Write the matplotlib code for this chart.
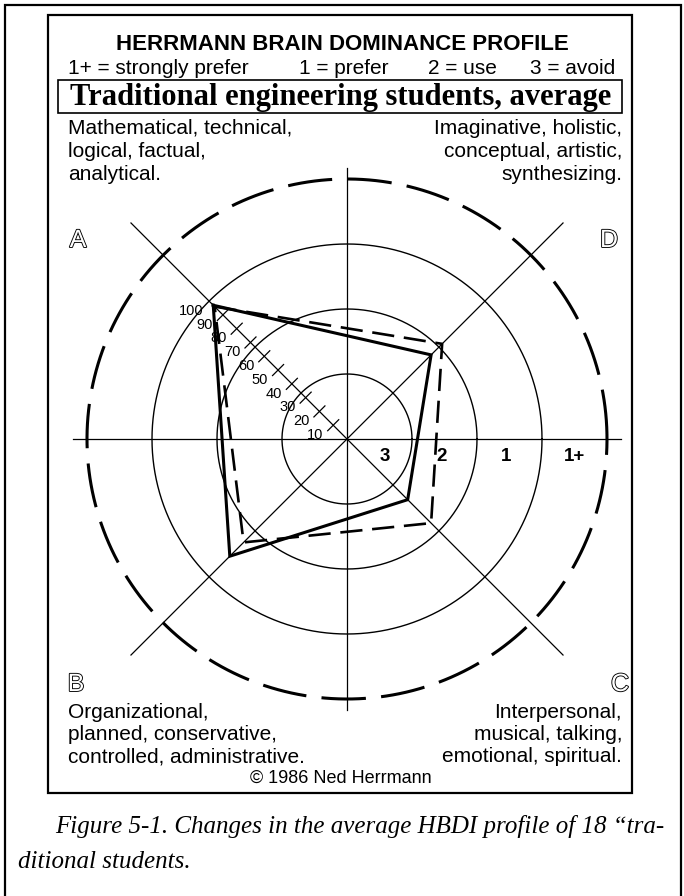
import matplotlib
matplotlib.use('Agg')
import matplotlib.pyplot as plt
import matplotlib.patheffects as pe
import numpy as np

plt.rcParams['lines.scale_dashes'] = False

# ---------------- data ----------------
quadrants = ['A', 'D', 'C', 'B']
quadrant_angles = [135, 45, -45, -135]          # degrees, direction of each quadrant axis
profile_solid = [97, 61, 44, 85]                # score per quadrant (A, D, C, B)
profile_dashed = [96, 69, 61, 75]
ring_labels = ['3', '2', '1', '1+']
ring_label_pos = [0.58, 1.45, 2.45, 3.5]        # in ring units along the x axis
scale_ticks = [10, 20, 30, 40, 50, 60, 70, 80, 90, 100]

title = 'HERRMANN BRAIN DOMINANCE PROFILE'
legend_items = ['1+ = strongly prefer', '1 = prefer', '2 = use', '3 = avoid']
subtitle = 'Traditional engineering students, average'
lines_A = ['Mathematical, technical,', 'logical, factual,', 'analytical.']
lines_D = ['Imaginative, holistic,', 'conceptual, artistic,', 'synthesizing.']
lines_B = ['Organizational,', 'planned, conservative,', 'controlled, administrative.']
lines_C = ['Interpersonal,', 'musical, talking,', 'emotional, spiritual.']
copyright_text = '\u00a9 1986 Ned Herrmann'
caption_1 = 'Figure 5-1. Changes in the average HBDI profile of 18 \u201ctra-'
caption_2 = 'ditional students.'

# ---------------- layout ----------------
W, H = 684, 896
fig = plt.figure(figsize=(W / 100, H / 100), dpi=100)
fig.patch.set_facecolor('white')

bg = fig.add_axes([0, 0, 1, 1])
bg.set_xlim(0, W)
bg.set_ylim(H, 0)
bg.axis('off')

SANS = ['Liberation Sans', 'DejaVu Sans']
SERIF = ['Liberation Serif', 'DejaVu Serif']

# outer frame (open at bottom)
bg.plot([5, 5, 681, 681], [H, 5, 5, H], color='black', lw=1.6, solid_joinstyle='miter')
# inner box
bg.add_patch(plt.Rectangle((48, 15), 584, 778, fill=False, ec='black', lw=1.6))
# title box
bg.add_patch(plt.Rectangle((58, 80), 564, 33, fill=False, ec='black', lw=1.2))

bg.text(342, 45, title, family=SANS, weight='bold', fontsize=16, ha='center', va='center')
leg_x = [68, 299, 428, 530]
for x, s in zip(leg_x, legend_items):
    bg.text(x, 68, s, family=SANS, fontsize=15, ha='left', va='center')
bg.text(341, 97, subtitle, family=SERIF, weight='bold', fontsize=22, ha='center', va='center')

body_kw = dict(family=SANS, fontsize=15, va='center')
for i, s in enumerate(lines_A):
    bg.text(68, 128 + i * 23.5, s, ha='left', **body_kw)
for i, s in enumerate(lines_D):
    bg.text(622, 128 + i * 23.5, s, ha='right', **body_kw)
for i, s in enumerate(lines_B):
    bg.text(68, 712 + i * 22.5, s, ha='left', **body_kw)
for i, s in enumerate(lines_C):
    bg.text(622, 712 + i * 22.5, s, ha='right', **body_kw)
bg.text(341, 778, copyright_text, family=SANS, fontsize=13, ha='center', va='center')

outline = [pe.withStroke(linewidth=1.3, foreground='black')]
letter_kw = dict(family=SANS, fontsize=18, color='white', ha='center', va='center',
                 path_effects=outline)
bg.text(78, 240, 'A', **letter_kw)
bg.text(609, 240, 'D', **letter_kw)
bg.text(76, 684, 'B', **letter_kw)
bg.text(620, 684, 'C', **letter_kw)

cap_kw = dict(family=SERIF, style='italic', fontsize=18, ha='left', va='center')
bg.text(55, 827, caption_1, **cap_kw)
bg.text(18, 862, caption_2, **cap_kw)

# ---------------- chart axes (ring units) ----------------
cx, cy, ring = 347, 439, 65.0
R = 4.8
ax = fig.add_axes([(cx - R * ring) / W, (H - cy - R * ring) / H,
                   2 * R * ring / W, 2 * R * ring / H])
ax.set_xlim(-R, R)
ax.set_ylim(-R, R)
ax.axis('off')
ax.patch.set_alpha(0)

theta = np.linspace(0, 2 * np.pi, 721)
for r in (1, 2, 3):
    ax.plot(r * np.cos(theta), r * np.sin(theta), color='black', lw=1.0)
ax.plot(4 * np.cos(theta + 0.02), 4 * np.sin(theta + 0.02), color='black', lw=2.2,
        linestyle=(0, (32, 11)))

# axes
ax.plot([-4.22, 4.22], [0, 0], color='black', lw=0.9)
ax.plot([0, 0], [-4.17, 4.17], color='black', lw=0.9)
for a in quadrant_angles:
    t = np.deg2rad(a)
    ax.plot([0, 4.7 * np.cos(t)], [0, 4.7 * np.sin(t)], color='black', lw=0.9)

# scale ticks on the A axis
tA = np.deg2rad(135)
u = np.array([np.cos(tA), np.sin(tA)])
p = np.array([np.cos(tA - np.pi / 2), np.sin(tA - np.pi / 2)])
for v in scale_ticks:
    rr = v / 100 * 3
    c = rr * u
    if v < 100:
        a0 = c - 0.12 * p
        a1 = c + 0.12 * p
        ax.plot([a0[0], a1[0]], [a0[1], a1[1]], color='black', lw=0.9)
    ax.annotate(str(v), xy=(c[0], c[1]), xytext=(-13, -7), textcoords='offset points',
                ha='center', va='center', fontsize=10.5, family=SANS)

# ring labels
for s, x in zip(ring_labels, ring_label_pos):
    ax.text(x, -0.27, s, ha='center', va='center', fontsize=13.5, weight='bold', family=SANS)

# profiles
def poly(vals):
    xs, ys = [], []
    for v, a in zip(vals, quadrant_angles):
        t = np.deg2rad(a)
        rr = v / 100 * 3
        xs.append(rr * np.cos(t))
        ys.append(rr * np.sin(t))
    return xs + xs[:1], ys + ys[:1]

xs, ys = poly(profile_dashed)
ax.plot(xs, ys, color='black', lw=1.9, linestyle=(0, (16, 7)), solid_joinstyle='miter')
xs, ys = poly(profile_solid)
ax.plot(xs, ys, color='black', lw=2.2, solid_joinstyle='miter')

fig.savefig('out.png', dpi=100, facecolor='white')
